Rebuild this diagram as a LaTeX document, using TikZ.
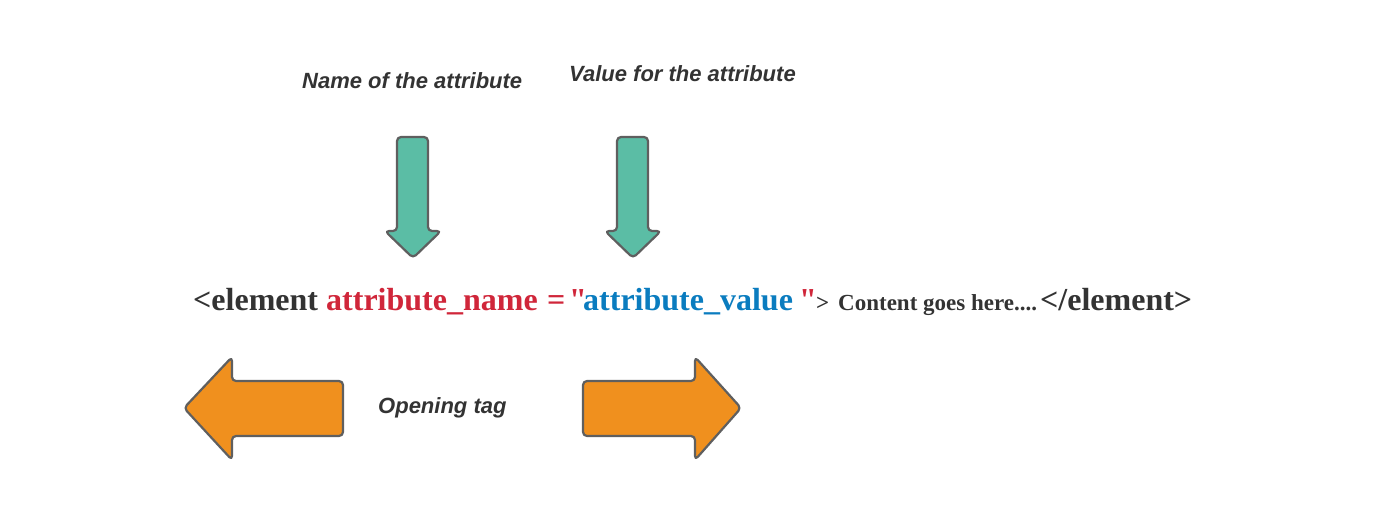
\documentclass[tikz,border=0pt]{standalone}
\usepackage{fontspec}
\setmainfont{Liberation Serif}
\setsansfont{Liberation Sans}
\newfontfamily\codefont{Liberation Serif}
\usetikzlibrary{positioning}
\definecolor{tealc}{RGB}{91,189,165}
\definecolor{orangec}{RGB}{240,144,30}
\definecolor{edgec}{RGB}{95,95,95}
\definecolor{textc}{RGB}{51,51,51}
\definecolor{namec}{RGB}{208,38,58}
\definecolor{valuec}{RGB}{10,124,191}

\begin{document}
\begin{tikzpicture}[x=1pt,y=-1pt,
  shp/.style={draw=edgec,line width=2.2pt,rounded corners=4pt,line join=round},
  lbl/.style={font=\sffamily\bfseries\itshape\fontsize{22}{26}\selectfont,text=textc,inner sep=0pt,anchor=base west},
  big/.style={font=\codefont\bfseries\fontsize{32}{36}\selectfont,text=textc,inner sep=0pt,anchor=base west},
  small/.style={font=\codefont\bfseries\fontsize{23}{26}\selectfont,text=textc,inner sep=0pt,anchor=base west}]
\useasboundingbox (0,0) rectangle (1386,506);
% down arrows
\foreach \cx in {413,633}{ \filldraw[shp,fill=tealc] (\cx-16,137) -- (\cx+15,137) -- (\cx+15,231) -- (\cx+28,231) -- (\cx,258) -- (\cx-28,231) -- (\cx-16,231) -- cycle; }
% side arrows
\filldraw[shp,fill=orangec] (184,408) -- (232,357) -- (232,381) -- (343,381) -- (343,436) -- (232,436) -- (232,460) -- cycle;
\filldraw[shp,fill=orangec] (741,408) -- (695,357) -- (695,381) -- (583,381) -- (583,436) -- (695,436) -- (695,460) -- cycle;
\node[lbl] (namelbl) at (302,88) {Name of the attribute};
\node[lbl] (valuelbl) at (569,81) {Value for the attribute};
\node[lbl] (openlbl) at (378,413) {Opening tag};
\node[big] (tagopen) at (193,310) {<element};
\node[big,text=namec] (attrname) at (326,310) {attribute\_name};
\node[big,text=namec] (eqsign) at (547,310) {=};
\node[big,text=namec] (lquote) at (569,310) {"};
\node[big,text=valuec] (attrvalue) at (583,310) {attribute\_value};
\node[big,text=namec] (rquote) at (799,310) {"};
\node[small] (gtsign) at (816,310) {>};
\node[small] (content) at (838,310) {Content goes here....};
\node[big] (tagclose) at (1040,310) {</element>};
\end{tikzpicture}
\end{document}
